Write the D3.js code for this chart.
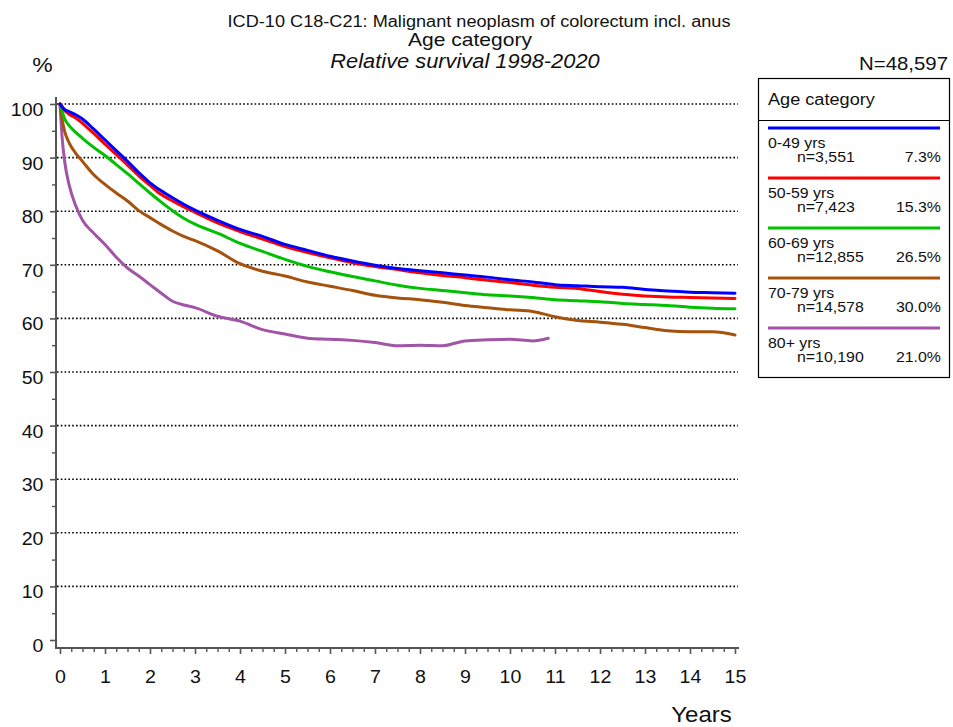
<!DOCTYPE html>
<html lang="en">
<head>
	<meta charset="utf-8">
	<title>Relative survival by age category</title>
	<script src="https://cdn.jsdelivr.net/npm/d3@7"></script>
	<style>
		body {
			margin: 0px;
			padding: 0px;
			background: #fff;
		}

		text {
			font-family: "Liberation Sans", Arial, Helvetica, sans-serif;
			fill: #111;
		}

		.grid {
			stroke: #000;
			stroke-width: 1.6;
			stroke-dasharray: 1.6, 2.2;
		}

		.axis-line {
			stroke: #555;
			stroke-width: 2;
		}

		.curve {
			fill: none;
			stroke-width: 3;
			stroke-linejoin: round;
			stroke-linecap: round;
		}
	</style>
</head>

<body>
	<div id="chart"></div>
	<script>

		// Data
		var years = [0, 0.05, 0.1, 0.2, 0.35, 0.5, 0.75, 1, 1.25, 1.5, 1.75, 2, 2.25, 2.5, 2.75, 3, 3.5, 4, 4.5, 5,
			5.5, 6, 6.5, 7, 7.5, 8, 8.5, 9, 9.5, 10, 10.5, 11, 11.5, 12, 12.5, 13, 13.5, 14, 14.5, 15];
		var yearsOld = [0, 0.05, 0.1, 0.2, 0.35, 0.5, 0.75, 1, 1.25, 1.5, 1.75, 2, 2.25, 2.5, 2.75, 3, 3.5, 4, 4.5, 5,
			5.5, 6, 6.5, 7, 7.5, 8, 8.5, 9, 9.5, 10, 10.5, 10.85];

		var surv0_49 = [100, 99.5, 99.0, 98.6, 98.0, 97.2, 95.3, 93.3, 91.3, 89.3, 87.2, 85.3, 83.8, 82.5, 81.3, 80.2, 78.3, 76.6, 75.3, 73.8,
			72.7, 71.6, 70.7, 69.9, 69.3, 68.9, 68.5, 68.1, 67.7, 67.2, 66.8, 66.3, 66.1, 65.9, 65.8, 65.4, 65.1, 64.9, 64.8, 64.7];
		var surv50_59 = [100, 99.3, 98.8, 98.1, 97.4, 96.4, 94.5, 92.5, 90.6, 88.6, 86.6, 84.8, 83.1, 81.9, 80.8, 79.8, 77.8, 76.2, 74.8, 73.4,
			72.3, 71.3, 70.4, 69.7, 69.1, 68.5, 68.0, 67.6, 67.1, 66.7, 66.2, 65.8, 65.6, 65.0, 64.5, 64.2, 64.0, 63.9, 63.8, 63.7];
		var surv60_69 = [100, 98.5, 97.3, 96.0, 94.7, 93.6, 91.9, 90.4, 88.7, 87.0, 85.2, 83.4, 81.7, 80.1, 78.7, 77.6, 75.9, 74.0, 72.5, 71.0,
			69.7, 68.7, 67.8, 67.0, 66.2, 65.6, 65.2, 64.8, 64.4, 64.2, 63.9, 63.5, 63.3, 63.1, 62.8, 62.6, 62.4, 62.1, 61.9, 61.8];
		var surv70_79 = [100, 97.0, 95.0, 92.8, 90.8, 89.3, 86.8, 85.0, 83.4, 81.9, 80.1, 78.8, 77.5, 76.3, 75.3, 74.5, 72.6, 70.2, 68.8, 67.9,
			66.8, 66.0, 65.2, 64.3, 63.8, 63.5, 63.0, 62.4, 62.0, 61.6, 61.3, 60.3, 59.6, 59.3, 58.9, 58.3, 57.7, 57.5, 57.5, 56.9];
		var surv80 = [100, 93.5, 89.5, 85.0, 81.0, 78.3, 75.9, 73.8, 71.4, 69.4, 67.9, 66.3, 64.7, 63.2, 62.5, 62.0, 60.4, 59.5, 57.9, 57.1,
			56.3, 56.1, 55.9, 55.5, 54.9, 55.0, 54.9, 55.8, 56.0, 56.1, 55.8, 56.3];

		var groupLabels = ["0-49 yrs", "50-59 yrs", "60-69 yrs", "70-79 yrs", "80+ yrs"];
		var groupCounts = ["n=3,551", "n=7,423", "n=12,855", "n=14,578", "n=10,190"];
		var groupShares = ["7.3%", "15.3%", "26.5%", "30.0%", "21.0%"];
		var groupColors = ["#0000ff", "#ff0000", "#00c000", "#a5520c", "#a255a6"];

		var yTicks = [0, 10, 20, 30, 40, 50, 60, 70, 80, 90, 100];
		var yMinor = [5, 15, 25, 35, 45, 55, 65, 75, 85, 95];
		var xTicks = d3.range(0, 16);
		var xMinor = d3.range(0, 60).map(function (i) { return i / 4; }).filter(function (v) { return v % 1 != 0; });

		// Sizes
		var W = 953, H = 727;
		var SX = 1.12; // text in the picture is a bit wider than tall

		var x = d3.scaleLinear().domain([0, 15]).range([60, 735]);
		var y = d3.scaleLinear().domain([0, 100]).range([640, 104]);

		var svg = d3.select("#chart").append("svg")
			.attr("width", W)
			.attr("height", H);

		// put a text at (px,py), stretched horizontally
		function label(txt, px, py, size, anchor, italic) {
			return svg.append("text")
				.attr("transform", "translate(" + px + "," + py + ") scale(" + SX + ",1)")
				.attr("text-anchor", anchor || "start")
				.style("font-size", size + "px")
				.style("font-style", italic ? "italic" : "normal")
				.text(txt);
		}

		// Titles
		label("ICD-10 C18-C21: Malignant neoplasm of colorectum incl. anus", 479, 26.5, 16.2, "middle");
		label("Age category", 470, 45.5, 18.8, "middle");
		label("Relative survival 1998-2020", 465, 67.5, 19.5, "middle", true);
		label("%", 42.5, 72, 20.5, "middle");
		label("N=48,597", 948, 70, 18.2, "end");
		label("Years", 701.5, 722, 21.5, "middle");

		// Gridlines
		svg.append("g").selectAll("line")
			.data(yTicks.filter(function (d) { return d > 0; }))
			.enter().append("line")
			.attr("class", "grid")
			.attr("x1", 57).attr("x2", 738)
			.attr("y1", function (d) { return y(d); })
			.attr("y2", function (d) { return y(d); });

		// Y axis
		var yAxis = svg.append("g").attr("transform", "translate(56,0)")
			.call(d3.axisLeft(y).tickValues(yTicks).tickSize(6).tickSizeOuter(0).tickPadding(0));
		yAxis.select(".domain").remove();
		yAxis.selectAll(".tick line").attr("stroke", "#555").attr("stroke-width", 1.6);
		yAxis.selectAll(".tick text")
			.attr("x", -12.5 / SX).attr("dy", null).attr("y", 11.5)
			.attr("transform", "scale(" + SX + ",1)")
			.style("font-size", "17.5px");

		var yAxisMinor = svg.append("g").attr("transform", "translate(56,0)")
			.call(d3.axisLeft(y).tickValues(yMinor).tickSize(4).tickFormat(""));
		yAxisMinor.select(".domain").remove();
		yAxisMinor.selectAll(".tick line").attr("stroke", "#555").attr("stroke-width", 1.4);

		// X axis
		var xAxis = svg.append("g").attr("transform", "translate(0,648)")
			.call(d3.axisBottom(x).tickValues(xTicks).tickSize(6).tickSizeOuter(0));
		xAxis.select(".domain").remove();
		xAxis.selectAll(".tick line").attr("stroke", "#555").attr("stroke-width", 1.6);
		xAxis.selectAll(".tick text")
			.attr("y", 35).attr("dy", null)
			.attr("transform", "scale(" + SX + ",1)")
			.style("font-size", "17.5px");

		var xAxisMinor = svg.append("g").attr("transform", "translate(0,648)")
			.call(d3.axisBottom(x).tickValues(xMinor).tickSize(4).tickFormat(""));
		xAxisMinor.select(".domain").remove();
		xAxisMinor.selectAll(".tick line").attr("stroke", "#555").attr("stroke-width", 1.4);

		// axis lines
		svg.append("line").attr("class", "axis-line")
			.attr("x1", 56).attr("x2", 56).attr("y1", 97).attr("y2", 649);
		svg.append("line").attr("class", "axis-line")
			.attr("x1", 55).attr("x2", 739).attr("y1", 648).attr("y2", 648);

		// Survival curves (oldest group drawn first, youngest on top)
		var series = [
			{ t: yearsOld, v: surv80, c: groupColors[4] },
			{ t: years, v: surv70_79, c: groupColors[3] },
			{ t: years, v: surv60_69, c: groupColors[2] },
			{ t: years, v: surv50_59, c: groupColors[1] },
			{ t: years, v: surv0_49, c: groupColors[0] }
		];

		var line = d3.line()
			.curve(d3.curveMonotoneX)
			.x(function (d) { return x(d[0]); })
			.y(function (d) { return y(d[1]); });

		svg.append("g").selectAll("path")
			.data(series)
			.enter().append("path")
			.attr("class", "curve")
			.attr("stroke", function (d) { return d.c; })
			.attr("d", function (d) { return line(d3.zip(d.t, d.v)); });

		// Legend
		var lg = svg.append("g");
		lg.append("rect")
			.attr("x", 758.5).attr("y", 78.5).attr("width", 191).attr("height", 299)
			.attr("fill", "#fff").attr("stroke", "#000").attr("stroke-width", 1.2);
		lg.append("line")
			.attr("x1", 758.5).attr("x2", 949.5).attr("y1", 120.5).attr("y2", 120.5)
			.attr("stroke", "#000").attr("stroke-width", 1.2);
		label("Age category", 768, 104.5, 16.2, "start");

		groupLabels.forEach(function (g, i) {
			var top = 128 + 50 * i;
			svg.append("line")
				.attr("x1", 768).attr("x2", 940).attr("y1", top).attr("y2", top)
				.attr("stroke", groupColors[i]).attr("stroke-width", 3);
			label(g, 768, top + 20, 14.2, "start");
			label(groupCounts[i], 797, top + 34, 14.2, "start");
			label(groupShares[i], 941, top + 34, 14.2, "end");
		});

	</script>
</body>
</html>
